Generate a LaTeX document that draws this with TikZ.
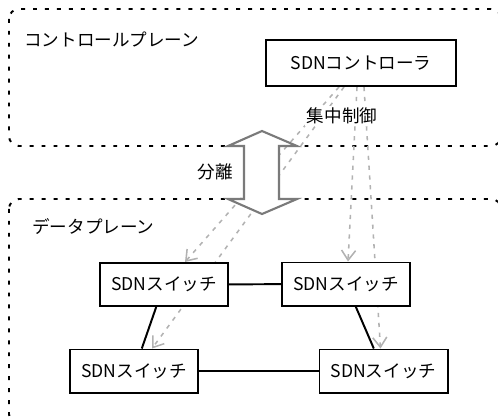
\documentclass[tikz,border=0pt]{standalone}
\usepackage{fontspec}
\setmainfont{Noto Sans CJK JP}
\usepackage{tikz}
\usetikzlibrary{arrows.meta,backgrounds}
\definecolor{flowgray}{RGB}{178,178,178}
\definecolor{sepgray}{RGB}{122,122,122}
\tikzset{%
  plane/.style={draw, line width=1.4pt, dash pattern=on 2.8pt off 5.7pt, rounded corners=7pt},% control / data plane frame
  planename/.style={anchor=west, inner sep=0pt},
  device/.style={draw, rectangle, line width=1.4pt, fill=white, inner sep=0pt},
  switch/.style={device, minimum width=3.2cm, minimum height=1.075cm},% SDN switch box
  link/.style={line width=1.4pt},% physical link between switches
  flow/.style={flowgray, line width=1.1pt, dash pattern=on 3pt off 4pt,
    -{Straight Barb[length=7pt,width=10pt]}},% control messages
  sepbox/.style={sepgray, line width=1.5pt, fill=white, line join=miter}
}

\begin{document}
\begin{tikzpicture}[x=0.025cm, y=-0.025cm, font=\fontsize{12.5pt}{15pt}\selectfont]
\useasboundingbox (0,0) rectangle (498,416);

\node[device, minimum width=4.75cm, minimum height=1.15cm] (ctl) at (361,63) {SDNコントローラ};
\node[switch] (sw1) at (164,284.5) {SDNスイッチ};
\node[switch] (sw2) at (346,284) {SDNスイッチ};
\node[switch] (sw3) at (134,371) {SDNスイッチ};
\node[switch] (sw4) at (383.5,371) {SDNスイッチ};

\node[fill=white, inner sep=1.5pt] (central) at (342,116) {集中制御};
\node (split) at (215,172) {分離};

\node[planename] (cplane) at (24,39) {コントロールプレーン};
\node[planename] (dplane) at (32,227) {データプレーン};

\draw[link] (sw1) -- (sw2);
\draw[link] (sw3) -- (sw4);
\draw[link] (sw1) -- (sw3);
\draw[link] (sw2) -- (sw4);

\begin{scope}[on background layer]
  \draw[plane] (9,9) rectangle (501,146);
  \draw[plane] (9,199) rectangle (501,424);
  \draw[flow] ([xshift=-0.55cm]ctl.south) -- ([xshift=0.525cm]sw1.north);
  \draw[flow] ([xshift=-0.425cm]ctl.south) -- ([xshift=0.45cm]sw3.north);
  \draw[flow] ([xshift=-0.1cm]ctl.south) -- ([xshift=0.05cm]sw2.north);
  \draw[flow] ([xshift=0.075cm]ctl.south) -- ([xshift=-0.075cm]sw4.north);
\end{scope}

% separation arrow between the planes
\draw[sepbox] (262,131) -- (297,146) -- (279,146) -- (279,199) -- (297,199) -- (262,214)
  -- (228,199) -- (244,199) -- (244,146) -- (228,146) -- cycle;
\end{tikzpicture}
\end{document}
